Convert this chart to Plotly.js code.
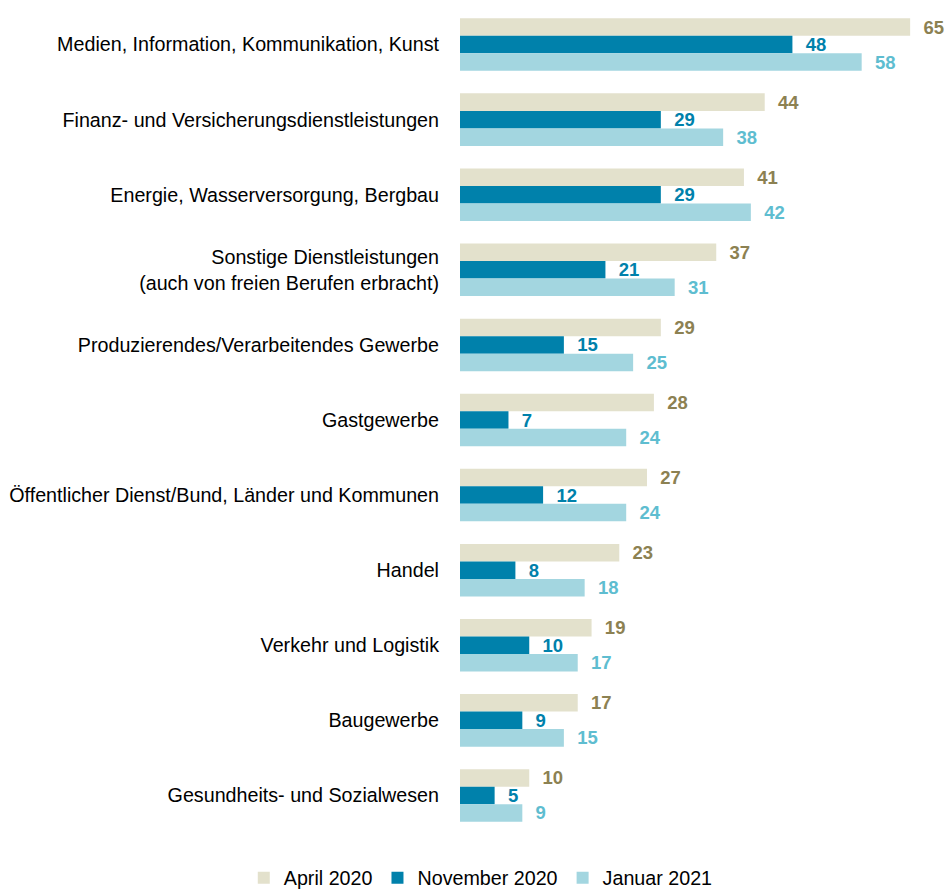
<!DOCTYPE html>
<html>
<head>
<meta charset="utf-8">
<script src="https://cdn.plot.ly/plotly-3.0.1.min.js"></script>
<style>html,body{margin:0;padding:0;background:#fff;}#chart{width:947px;height:894px;}</style>
</head>
<body>
<div id="chart"></div>
<script>
const categories = [
  "Medien, Information, Kommunikation, Kunst",
  "Finanz- und Versicherungsdienstleistungen",
  "Energie, Wasserversorgung, Bergbau",
  "Sonstige Dienstleistungen<br>(auch von freien Berufen erbracht)",
  "Produzierendes/Verarbeitendes Gewerbe",
  "Gastgewerbe",
  "Öffentlicher Dienst/Bund, Länder und Kommunen",
  "Handel",
  "Verkehr und Logistik",
  "Baugewerbe",
  "Gesundheits- und Sozialwesen"
];
const seriesNames = ["April 2020", "November 2020", "Januar 2021"];
const april2020 = [65, 44, 41, 37, 29, 28, 27, 23, 19, 17, 10];
const november2020 = [48, 29, 29, 21, 15, 7, 12, 8, 10, 9, 5];
const januar2021 = [58, 38, 42, 31, 25, 24, 24, 18, 17, 15, 9];

const barColors = ["#E3E1CC", "#0081AB", "#A3D6E0"];
const labelColors = ["#8C8152", "#0081AB", "#5EBDD0"];
const FONT = "'Liberation Sans', Arial, sans-serif";

const values = [april2020, november2020, januar2021];
const traces = values.map((v, i) => ({
  type: "bar",
  orientation: "h",
  name: seriesNames[i],
  y: categories,
  x: v,
  marker: {color: barColors[i]},
  text: v.map(String),
  texttemplate: "  %{text}",
  textposition: "outside",
  constraintext: "none",
  cliponaxis: false,
  textfont: {family: FONT, size: 18.5, color: labelColors[i], weight: "bold"},
  hoverinfo: "x+name"
}));

const layout = {
  width: 947,
  height: 894,
  margin: {l: 460, r: 23, t: 7, b: 61},
  barmode: "group",
  bargap: 0.3,
  bargroupgap: 0,
  paper_bgcolor: "#fff",
  plot_bgcolor: "#fff",
  font: {family: FONT, size: 19.7, color: "#000"},
  xaxis: {range: [0, 67], visible: false, showgrid: false, zeroline: false},
  yaxis: {
    autorange: "reversed",
    showgrid: false,
    zeroline: false,
    showline: false,
    ticks: "",
    ticklabelstandoff: 20,
    tickfont: {family: FONT, size: 19.7, color: "#000"}
  },
  showlegend: true,
  legend: {
    orientation: "h",
    x: -0.466,
    xanchor: "left",
    yref: "container",
    y: 0.018,
    yanchor: "middle",
    itemwidth: 30,
    font: {family: FONT, size: 19.7, color: "#000"},
    traceorder: "normal"
  }
};

Plotly.newPlot("chart", traces, layout, {displayModeBar: false, staticPlot: true});
</script>
</body>
</html>
